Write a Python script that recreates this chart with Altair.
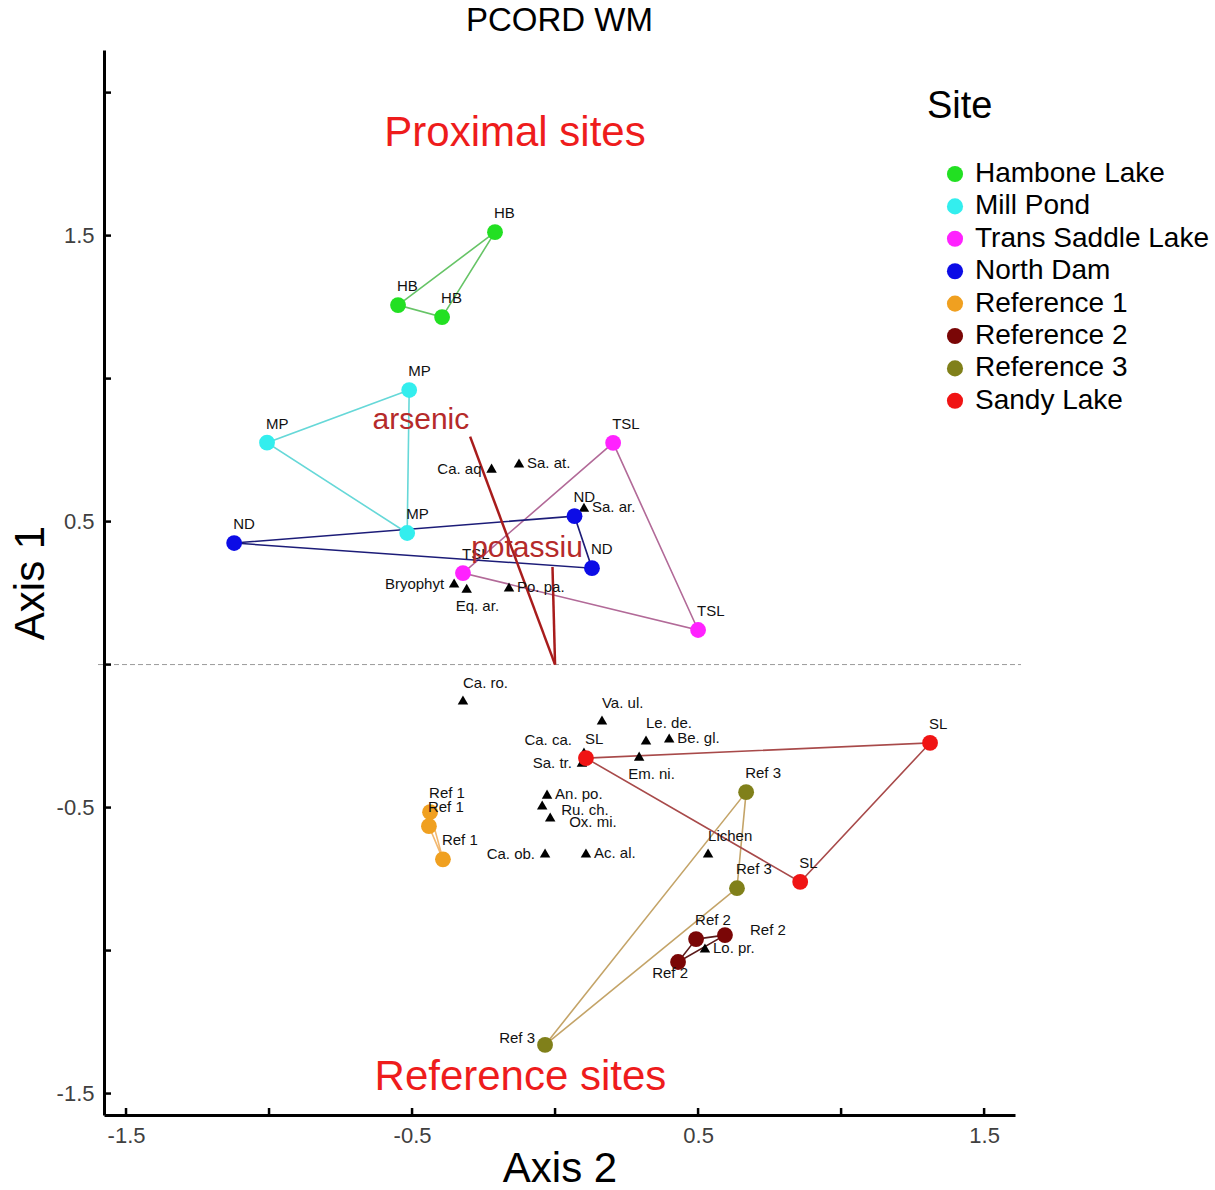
import altair as alt
import pandas as pd

FONT = "Liberation Sans"

# ---------------- data ----------------
site_names = ["Hambone Lake", "Mill Pond", "Trans Saddle Lake", "North Dam",
              "Reference 1", "Reference 2", "Reference 3", "Sandy Lake"]
site_codes = ["HB", "MP", "TSL", "ND", "Ref 1", "Ref 2", "Ref 3", "SL"]
site_colors = ["#22e022", "#33eeee", "#ff22ff", "#0c0ce6",
               "#f0a020", "#7a0606", "#80801a", "#f01414"]
hull_colors = ["#66c466", "#66d8d8", "#b26a98", "#1c1c78",
               "#f2b870", "#5a1a1a", "#c4a468", "#a84a4a"]

sample_site = (["Hambone Lake"] * 3 + ["Mill Pond"] * 3 + ["Trans Saddle Lake"] * 3 +
               ["North Dam"] * 3 + ["Reference 1"] * 3 + ["Reference 2"] * 3 +
               ["Reference 3"] * 3 + ["Sandy Lake"] * 3)
sample_x = [-0.210, -0.549, -0.395,
            -0.510, -1.007, -0.517,
            0.203, -0.322, 0.500,
            -1.122, 0.068, 0.129,
            -0.437, -0.441, -0.392,
            0.493, 0.594, 0.430,
            0.668, 0.636, -0.035,
            0.108, 1.311, 0.857]
sample_y = [1.512, 1.257, 1.215,
            0.960, 0.776, 0.460,
            0.775, 0.320, 0.121,
            0.425, 0.519, 0.337,
            -0.516, -0.565, -0.681,
            -0.960, -0.946, -1.040,
            -0.446, -0.782, -1.330,
            -0.327, -0.274, -0.760]
sample_label_pos = (["above"] * 15 + ["above", "right", "below"] +
                    ["above", "above", "left"] + ["above"] * 3)

species = ["Ca. aq", "Sa. at.", "Sa. ar.", "Bryophyt", "Eq. ar.", "Po. pa.",
           "Ca. ro.", "Va. ul.", "Le. de.", "Be. gl.", "Em. ni.", "Ca. ca.",
           "Sa. tr.", "An. po.", "Ru. ch.", "Ox. mi.", "Ca. ob.", "Ac. al.",
           "Lichen", "Lo. pr."]
species_x = [-0.222, -0.126, 0.101, -0.353, -0.309, -0.161,
             -0.322, 0.164, 0.318, 0.399, 0.294, 0.101,
             0.094, -0.028, -0.045, -0.017, -0.035, 0.108,
             0.535, 0.524]
species_y = [0.687, 0.705, 0.550, 0.285, 0.267, 0.271,
             -0.124, -0.194, -0.264, -0.257, -0.320, -0.306,
             -0.341, -0.453, -0.491, -0.533, -0.659, -0.659,
             -0.659, -0.991]
species_label_pos = ["left", "right", "right", "left", "below", "right",
                     "above", "above", "above", "right", "below", "upleft",
                     "left", "right", "right2", "right2", "left", "right",
                     "above", "right"]

vector_names = ["arsenic", "potassiu"]
vector_x = [-0.297, -0.009]
vector_y = [0.797, 0.341]
vector_label_x = [-0.469, -0.098]
vector_label_y = [0.855, 0.407]

region_labels = ["Proximal sites", "Reference sites"]
region_x = [-0.140, -0.121]
region_y = [1.813, -1.488]

x_ticks = [-1.5, -1.0, -0.5, 0.0, 0.5, 1.0, 1.5]
y_ticks = [-1.5, -1.0, -0.5, 0.0, 0.5, 1.0, 1.5, 2.0]
labeled_ticks = [-1.5, -0.5, 0.5, 1.5]
zero_line = [0.0]

# ---------------- layout / style ----------------
W, H = 911, 1065
XS = alt.Scale(domain=[-1.577, 1.608], zero=False, nice=False)
YS = alt.Scale(domain=[-1.575, 2.149], zero=False, nice=False)

XAX = alt.Axis(title="Axis 2", values=labeled_ticks, labelExpr="'' + datum.value",
               grid=False, ticks=False, tickSize=0, domainColor="black", domainWidth=3,
               labelFont=FONT, labelFontSize=22, labelColor="#404040", labelPadding=10,
               titleFont=FONT, titleFontSize=42, titleFontWeight="normal",
               titleColor="black", titlePadding=2)
YAX = alt.Axis(title="Axis 1", values=labeled_ticks, labelExpr="'' + datum.value",
               grid=False, ticks=False, tickSize=0, domainColor="black", domainWidth=3,
               labelFont=FONT, labelFontSize=22, labelColor="#404040", labelPadding=10,
               titleFont=FONT, titleFontSize=42, titleFontWeight="normal",
               titleColor="black", titlePadding=4)


def X(field="x"):
    return alt.X(f"{field}:Q", scale=XS, axis=XAX)


def Y(field="y"):
    return alt.Y(f"{field}:Q", scale=YS, axis=YAX)


SITE_LABEL = {
    "above": dict(align="left", dx=-1, dy=-19),
    "right": dict(align="left", dx=25, dy=-5),
    "below": dict(align="center", dx=-8, dy=11),
    "left": dict(align="right", dx=-10, dy=-7),
}
SPECIES_LABEL = {
    "left": dict(align="right", dx=-10, dy=1),
    "right": dict(align="left", dx=8, dy=0),
    "right2": dict(align="left", dx=19, dy=5),
    "above": dict(align="left", dx=0, dy=-17),
    "below": dict(align="left", dx=-11, dy=18),
    "upleft": dict(align="right", dx=-12, dy=-12),
}

# ---------------- tables ----------------
code_of = dict(zip(site_names, site_codes))
samples = pd.DataFrame({
    "site": sample_site, "x": sample_x, "y": sample_y,
    "label": [code_of[s] for s in sample_site], "pos": sample_label_pos,
})

hull_rows = []
for s in site_names:
    sub = samples[samples["site"] == s].reset_index(drop=True)
    for i in range(len(sub) + 1):
        r = sub.iloc[i % len(sub)]
        hull_rows.append({"group": s, "ord": i, "x": r["x"], "y": r["y"]})
hull = pd.DataFrame(hull_rows)

spec = pd.DataFrame({"label": species, "x": species_x, "y": species_y,
                     "pos": species_label_pos})
vec = pd.DataFrame({"name": vector_names, "x": [0.0] * len(vector_names),
                    "y": [0.0] * len(vector_names), "x2": vector_x, "y2": vector_y})
vec_lab = pd.DataFrame({"name": vector_names, "x": vector_label_x, "y": vector_label_y})
regions = pd.DataFrame({"label": region_labels, "x": region_x, "y": region_y})

# ---------------- layers ----------------
zero = alt.Chart(pd.DataFrame({"y": zero_line})).mark_rule(
    color="#9a9a9a", strokeDash=[5, 3], strokeWidth=1
).encode(y=Y(), x=alt.value(-6), x2=alt.value(W + 6))

xt = alt.Chart(pd.DataFrame({"x": x_ticks})).mark_rule(color="black", strokeWidth=2.5).encode(
    x=X(), y=alt.value(H), y2=alt.value(H - 7))
yt = alt.Chart(pd.DataFrame({"y": y_ticks})).mark_rule(color="black", strokeWidth=2.5).encode(
    y=Y(), x=alt.value(0), x2=alt.value(7))

hulls = alt.Chart(hull).mark_line(strokeWidth=1.6).encode(
    x=X(), y=Y(),
    stroke=alt.Stroke("group:N", scale=alt.Scale(domain=site_names, range=hull_colors),
                      legend=None),
    detail="group:N", order="ord:Q")

vectors = alt.Chart(vec).mark_rule(color="#a81c1c", strokeWidth=2.5).encode(
    x=X(), y=Y(), x2="x2:Q", y2="y2:Q")

tri = alt.Chart(spec).mark_point(shape="triangle-up", filled=True, size=110,
                                 color="black", opacity=1).encode(x=X(), y=Y())

points = alt.Chart(samples).mark_circle(size=250, opacity=1).encode(
    x=X(), y=Y(),
    color=alt.Color("site:N", sort=site_names,
                    scale=alt.Scale(domain=site_names, range=site_colors),
                    legend=alt.Legend(title="Site", orient="none", legendX=823, legendY=38,
                                      titleFont=FONT, titleFontSize=38,
                                      titleFontWeight="normal", titleColor="black",
                                      titlePadding=34,
                                      labelFont=FONT, labelFontSize=28, labelColor="black",
                                      labelLimit=400,
                                      symbolType="circle", symbolSize=260,
                                      symbolOffset=14, labelOffset=6,
                                      rowPadding=4.4, padding=0)))

site_text = []
for key, st in SITE_LABEL.items():
    site_text.append(
        alt.Chart(samples).transform_filter(alt.datum.pos == key).mark_text(
            font=FONT, fontSize=15, color="#111111", baseline="middle", **st
        ).encode(x=X(), y=Y(), text="label:N"))

spec_text = []
for key, st in SPECIES_LABEL.items():
    spec_text.append(
        alt.Chart(spec).transform_filter(alt.datum.pos == key).mark_text(
            font=FONT, fontSize=15, color="#111111", baseline="middle", **st
        ).encode(x=X(), y=Y(), text="label:N"))

vtext = alt.Chart(vec_lab).mark_text(font=FONT, fontSize=30, color="#b52a2a",
                                     align="center", baseline="middle").encode(
    x=X(), y=Y(), text="name:N")

rtext = alt.Chart(regions).mark_text(font=FONT, fontSize=42, color="#ee1c1c",
                                     align="center", baseline="alphabetic").encode(
    x=X(), y=Y(), text="label:N")

chart = alt.layer(
    zero, hulls, vectors, xt, yt, tri, points, *site_text, *spec_text, vtext, rtext
).properties(
    width=W, height=H,
    title=alt.TitleParams("PCORD WM", font=FONT, fontSize=33, fontWeight="normal",
                          color="black", anchor="middle", frame="group", offset=12),
    autosize=alt.AutoSizeParams(type="none"),
    padding={"left": 104, "top": 50, "right": 200, "bottom": 75},
).resolve_scale(color="independent", stroke="independent").configure_view(stroke=None)

chart.save("out.html", embed_options={"renderer": "svg", "actions": False})
